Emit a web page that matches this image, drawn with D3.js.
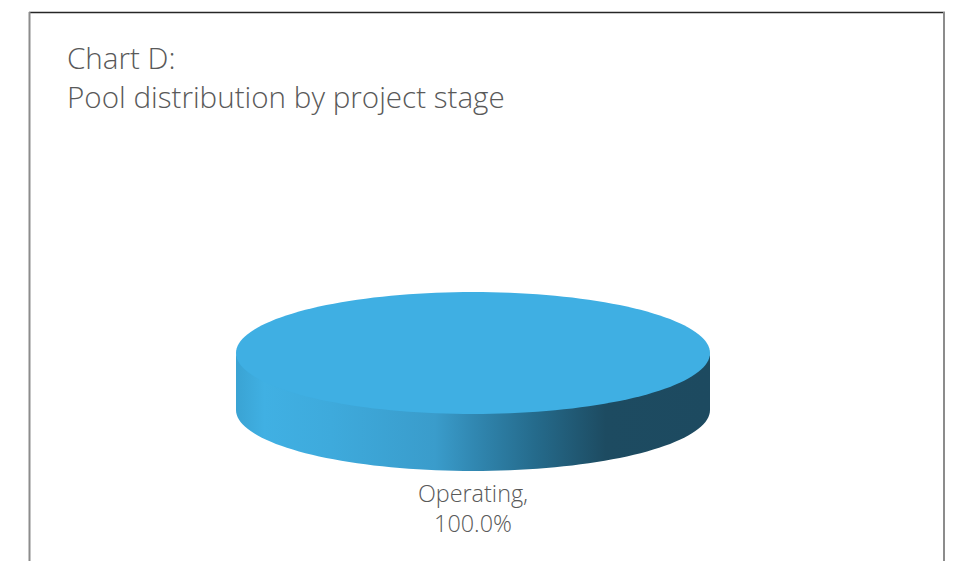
<!DOCTYPE html>
<html>
<head>
<meta charset="utf-8">
<script src="https://cdn.jsdelivr.net/npm/d3@7"></script>
<style>
  body { margin: 0; background: #fff; }
  text { font-family: "Open Sans", sans-serif; font-weight: 300; fill: #595959; }
</style>
</head>
<body>
<svg id="chart" width="956" height="561"></svg>
<script>
// data
var categories = ["Operating"];
var values = [100.0];
var titleLines = ["Chart D:", "Pool distribution by project stage"];

var svg = d3.select("#chart");
var W = 956, H = 561;

// frame: dark top edge, grey sides, open at the bottom
svg.append("line").attr("x1", 29).attr("x2", 945).attr("y1", 12.5).attr("y2", 12.5)
  .attr("stroke", "#262626").attr("stroke-width", 1.3);
svg.append("line").attr("x1", 29.5).attr("x2", 29.5).attr("y1", 12).attr("y2", H)
  .attr("stroke", "#8c8c8c").attr("stroke-width", 2);
svg.append("line").attr("x1", 944).attr("x2", 944).attr("y1", 12).attr("y2", H)
  .attr("stroke", "#8c8c8c").attr("stroke-width", 2);

// title
svg.selectAll("text.title").data(titleLines).enter().append("text")
  .attr("class", "title")
  .attr("x", 67)
  .attr("y", function(d, i) { return 69 + i * 39; })
  .attr("font-size", 29.6)
  .text(function(d) { return d; });

// 3d pie
var cx = 473, cy = 353, rx = 237, ry = 61, depth = 57;

var defs = svg.append("defs");
var grad = defs.append("linearGradient").attr("id", "sideGrad")
  .attr("gradientUnits", "userSpaceOnUse")
  .attr("x1", cx - rx).attr("x2", cx + rx).attr("y1", 0).attr("y2", 0);
[[0, "#3aa3d3"], [0.06, "#40b0e3"], [0.2, "#3eaadc"], [0.42, "#3a9ccb"], [0.5, "#3188b2"],
 [0.63, "#256b8c"], [0.78, "#1d4b61"], [1, "#1d4a60"]].forEach(function(s) {
  grad.append("stop").attr("offset", s[0]).attr("stop-color", s[1]);
});

var pie = d3.pie().sort(null).startAngle(0).endAngle(2 * Math.PI);
var arcs = pie(values);

function pt(a, dy) {
  // angle measured clockwise from 12 o'clock, like d3.arc
  return [cx + rx * Math.sin(a), cy - ry * Math.cos(a) + (dy || 0)];
}

function topPath(d) {
  var n = 160, pts = [];
  for (var i = 0; i <= n; i++) {
    pts.push(pt(d.startAngle + (d.endAngle - d.startAngle) * i / n));
  }
  var full = d.endAngle - d.startAngle >= 2 * Math.PI - 1e-6;
  if (full) return d3.line()(pts) + "Z";
  return "M" + cx + "," + cy + "L" + d3.line()(pts).slice(1) + "Z";
}

function sidePath(d) {
  // front part of the rim is between PI/2 and 3PI/2
  var a0 = Math.max(d.startAngle, Math.PI / 2), a1 = Math.min(d.endAngle, 3 * Math.PI / 2);
  if (a1 <= a0) return null;
  var n = 80, top = [], bot = [];
  for (var i = 0; i <= n; i++) {
    var a = a0 + (a1 - a0) * i / n;
    top.push(pt(a, -2)); // tuck under the top face so no seam shows
    bot.push(pt(a, depth));
  }
  return d3.line()(top.concat(bot.reverse())) + "Z";
}

var g = svg.append("g");
g.selectAll("path.side").data(arcs).enter().append("path")
  .attr("class", "side")
  .attr("d", sidePath)
  .attr("fill", "url(#sideGrad)");
g.selectAll("path.top").data(arcs).enter().append("path")
  .attr("class", "top")
  .attr("d", topPath)
  .attr("fill", "#3fafe3");

// data label
var fmt = d3.format(".1f");
var lab = svg.selectAll("text.lab").data(arcs).enter().append("text")
  .attr("class", "lab")
  .attr("text-anchor", "middle")
  .attr("font-size", 23.4);
lab.append("tspan").attr("x", cx).attr("y", 502)
  .text(function(d, i) { return categories[i] + ","; });
lab.append("tspan").attr("x", cx).attr("y", 532)
  .text(function(d) { return fmt(d.value) + "%"; });
</script>
</body>
</html>
